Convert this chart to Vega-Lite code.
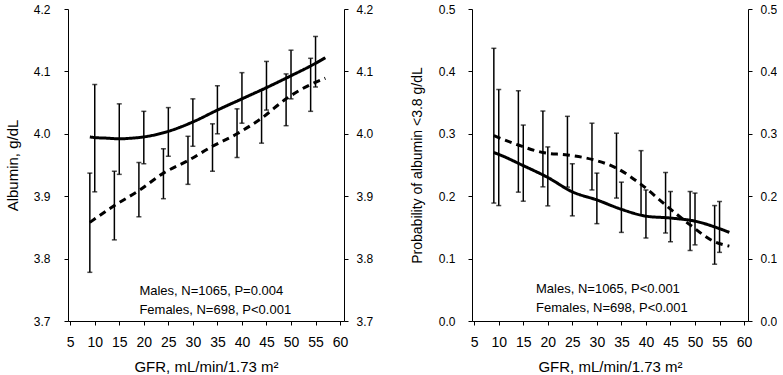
{
  "$schema": "https://vega.github.io/schema/vega-lite/v6.json",
  "padding": {"left": 5, "top": 3, "right": 0, "bottom": 0},
  "spacing": 37,
  "config": {
    "view": {"stroke": null},
    "font": "Liberation Sans",
    "axis": {
      "grid": false,
      "domainColor": "black",
      "tickColor": "black",
      "labelColor": "black",
      "titleColor": "black",
      "labelFont": "Liberation Sans",
      "titleFont": "Liberation Sans",
      "titleFontWeight": "normal",
      "tickSize": 4,
      "domainWidth": 1,
      "tickWidth": 1
    }
  },
  "datasets": {
    "albLine": [
      {"sex": "Males", "gfr": 9, "v": 3.995},
      {"sex": "Males", "gfr": 10, "v": 3.994},
      {"sex": "Males", "gfr": 12.5, "v": 3.993},
      {"sex": "Males", "gfr": 15, "v": 3.992},
      {"sex": "Males", "gfr": 17.5, "v": 3.993},
      {"sex": "Males", "gfr": 20, "v": 3.995},
      {"sex": "Males", "gfr": 25, "v": 4.004},
      {"sex": "Males", "gfr": 30, "v": 4.019},
      {"sex": "Males", "gfr": 35, "v": 4.038},
      {"sex": "Males", "gfr": 40, "v": 4.056},
      {"sex": "Males", "gfr": 45, "v": 4.074},
      {"sex": "Males", "gfr": 50, "v": 4.093},
      {"sex": "Males", "gfr": 55, "v": 4.113},
      {"sex": "Males", "gfr": 57, "v": 4.122},
      {"sex": "Females", "gfr": 9, "v": 3.858},
      {"sex": "Females", "gfr": 14, "v": 3.885},
      {"sex": "Females", "gfr": 19, "v": 3.909},
      {"sex": "Females", "gfr": 24, "v": 3.937},
      {"sex": "Females", "gfr": 29, "v": 3.957},
      {"sex": "Females", "gfr": 34, "v": 3.98},
      {"sex": "Females", "gfr": 39, "v": 4.0},
      {"sex": "Females", "gfr": 44, "v": 4.025},
      {"sex": "Females", "gfr": 49, "v": 4.056},
      {"sex": "Females", "gfr": 54, "v": 4.079},
      {"sex": "Females", "gfr": 57, "v": 4.089}
    ],
    "albBars": [
      {"sex": "Males", "gfr": 10, "lo": 3.907, "hi": 4.079},
      {"sex": "Males", "gfr": 15, "lo": 3.935, "hi": 4.048},
      {"sex": "Males", "gfr": 20, "lo": 3.952, "hi": 4.036},
      {"sex": "Males", "gfr": 25, "lo": 3.964, "hi": 4.042},
      {"sex": "Males", "gfr": 30, "lo": 3.98, "hi": 4.056},
      {"sex": "Males", "gfr": 35, "lo": 4.0, "hi": 4.077},
      {"sex": "Males", "gfr": 40, "lo": 4.017, "hi": 4.098},
      {"sex": "Males", "gfr": 45, "lo": 4.038, "hi": 4.116},
      {"sex": "Males", "gfr": 50, "lo": 4.056, "hi": 4.134},
      {"sex": "Males", "gfr": 55, "lo": 4.075, "hi": 4.156},
      {"sex": "Females", "gfr": 9, "lo": 3.778, "hi": 3.937},
      {"sex": "Females", "gfr": 14, "lo": 3.83, "hi": 3.94},
      {"sex": "Females", "gfr": 19, "lo": 3.867, "hi": 3.954},
      {"sex": "Females", "gfr": 24, "lo": 3.896, "hi": 3.976},
      {"sex": "Females", "gfr": 29, "lo": 3.919, "hi": 3.996},
      {"sex": "Females", "gfr": 34, "lo": 3.94, "hi": 4.016},
      {"sex": "Females", "gfr": 39, "lo": 3.962, "hi": 4.04},
      {"sex": "Females", "gfr": 44, "lo": 3.985, "hi": 4.07},
      {"sex": "Females", "gfr": 49, "lo": 4.013, "hi": 4.096},
      {"sex": "Females", "gfr": 54, "lo": 4.036, "hi": 4.121}
    ],
    "probLine": [
      {"sex": "Males", "gfr": 9, "v": 0.27},
      {"sex": "Males", "gfr": 10, "v": 0.267},
      {"sex": "Males", "gfr": 15, "v": 0.249},
      {"sex": "Males", "gfr": 20, "v": 0.23},
      {"sex": "Males", "gfr": 25, "v": 0.207},
      {"sex": "Males", "gfr": 30, "v": 0.194},
      {"sex": "Males", "gfr": 35, "v": 0.179},
      {"sex": "Males", "gfr": 40, "v": 0.168},
      {"sex": "Males", "gfr": 45, "v": 0.165},
      {"sex": "Males", "gfr": 50, "v": 0.16},
      {"sex": "Males", "gfr": 55, "v": 0.148},
      {"sex": "Males", "gfr": 57, "v": 0.142},
      {"sex": "Females", "gfr": 9, "v": 0.297},
      {"sex": "Females", "gfr": 14, "v": 0.282},
      {"sex": "Females", "gfr": 19, "v": 0.27},
      {"sex": "Females", "gfr": 24, "v": 0.266},
      {"sex": "Females", "gfr": 29, "v": 0.259},
      {"sex": "Females", "gfr": 34, "v": 0.245},
      {"sex": "Females", "gfr": 39, "v": 0.219},
      {"sex": "Females", "gfr": 44, "v": 0.186},
      {"sex": "Females", "gfr": 49, "v": 0.154},
      {"sex": "Females", "gfr": 54, "v": 0.127},
      {"sex": "Females", "gfr": 57, "v": 0.12}
    ],
    "probBars": [
      {"sex": "Males", "gfr": 10, "lo": 0.185, "hi": 0.371},
      {"sex": "Males", "gfr": 15, "lo": 0.192, "hi": 0.314},
      {"sex": "Males", "gfr": 20, "lo": 0.1845, "hi": 0.279},
      {"sex": "Males", "gfr": 25, "lo": 0.1685, "hi": 0.252},
      {"sex": "Males", "gfr": 30, "lo": 0.156, "hi": 0.237},
      {"sex": "Males", "gfr": 35, "lo": 0.142, "hi": 0.2225},
      {"sex": "Males", "gfr": 40, "lo": 0.133, "hi": 0.21},
      {"sex": "Males", "gfr": 45, "lo": 0.127, "hi": 0.2075},
      {"sex": "Males", "gfr": 50, "lo": 0.122, "hi": 0.205},
      {"sex": "Males", "gfr": 55, "lo": 0.11, "hi": 0.1915},
      {"sex": "Females", "gfr": 9, "lo": 0.189, "hi": 0.437},
      {"sex": "Females", "gfr": 14, "lo": 0.2065, "hi": 0.369},
      {"sex": "Females", "gfr": 19, "lo": 0.215, "hi": 0.3365},
      {"sex": "Females", "gfr": 24, "lo": 0.2145, "hi": 0.328},
      {"sex": "Females", "gfr": 29, "lo": 0.21, "hi": 0.317},
      {"sex": "Females", "gfr": 34, "lo": 0.197, "hi": 0.301},
      {"sex": "Females", "gfr": 39, "lo": 0.17, "hi": 0.273},
      {"sex": "Females", "gfr": 44, "lo": 0.141, "hi": 0.238},
      {"sex": "Females", "gfr": 49, "lo": 0.113, "hi": 0.2075},
      {"sex": "Females", "gfr": 54, "lo": 0.091, "hi": 0.185}
    ]
  },
  "hconcat": [
    {
      "width": 276,
      "height": 312,
      "resolve": {"axis": {"x": "independent", "y": "independent"}},
      "layer": [
        {
          "data": {"name": "albBars"},
          "mark": {"type": "rule", "color": "black", "strokeWidth": 1.5},
          "encoding": {
            "x": {"field": "gfr", "type": "quantitative", "scale": {"domain": [4.55, 60.8], "nice": false, "zero": false},
              "axis": {"values": [5, 10, 15, 20, 25, 30, 35, 40, 45, 50, 55, 60], "title": "GFR, mL/min/1.73 m²", "labelFontSize": 14, "labelPadding": 10, "titleFontSize": 15, "titlePadding": 10}},
            "y": {"field": "lo", "type": "quantitative", "scale": {"domain": [3.7, 4.2], "nice": false, "zero": false},
              "axis": {"orient": "left", "values": [3.7, 3.8, 3.9, 4.0, 4.1, 4.2], "format": ".1f", "title": "Albumin, g/dL", "labelFontSize": 12, "labelPadding": 14, "titleFontSize": 15, "titlePadding": 13}},
            "y2": {"field": "hi"}
          }
        },
        {
          "data": {"name": "albBars"},
          "mark": {"type": "tick", "orient": "horizontal", "color": "black", "size": 5, "thickness": 1.5},
          "encoding": {
            "x": {"field": "gfr", "type": "quantitative", "axis": null},
            "y": {"field": "lo", "type": "quantitative", "axis": null}
          }
        },
        {
          "data": {"name": "albBars"},
          "mark": {"type": "tick", "orient": "horizontal", "color": "black", "size": 5, "thickness": 1.5},
          "encoding": {
            "x": {"field": "gfr", "type": "quantitative", "axis": null},
            "y": {"field": "hi", "type": "quantitative", "axis": null}
          }
        },
        {
          "data": {"name": "albLine"},
          "mark": {"type": "line", "color": "black", "strokeWidth": 3, "interpolate": "monotone"},
          "encoding": {
            "x": {"field": "gfr", "type": "quantitative", "axis": null},
            "y": {"field": "v", "type": "quantitative",
              "axis": {"orient": "right", "values": [3.7, 3.8, 3.9, 4.0, 4.1, 4.2], "format": ".1f", "title": null, "labelFontSize": 12, "labelPadding": 8}},
            "detail": {"field": "sex"},
            "strokeDash": {"field": "sex", "type": "nominal", "scale": {"domain": ["Males", "Females"], "range": [[1, 0], [7, 5]]}, "legend": null}
          }
        },
        {
          "data": {"values": [{"label": "Males, N=1065, P=0.004"}]},
          "mark": {"type": "text", "align": "left", "baseline": "alphabetic", "fontSize": 13, "color": "black"},
          "encoding": {
            "x": {"datum": 19.1, "type": "quantitative", "axis": null},
            "y": {"datum": 3.741, "type": "quantitative", "axis": null},
            "text": {"field": "label"}
          }
        },
        {
          "data": {"values": [{"label": "Females, N=698, P<0.001"}]},
          "mark": {"type": "text", "align": "left", "baseline": "alphabetic", "fontSize": 13, "color": "black"},
          "encoding": {
            "x": {"datum": 19.1, "type": "quantitative", "axis": null},
            "y": {"datum": 3.712, "type": "quantitative", "axis": null},
            "text": {"field": "label"}
          }
        }
      ]
    },
    {
      "width": 276,
      "height": 312,
      "resolve": {"axis": {"x": "independent", "y": "independent"}},
      "layer": [
        {
          "data": {"name": "probBars"},
          "mark": {"type": "rule", "color": "black", "strokeWidth": 1.5},
          "encoding": {
            "x": {"field": "gfr", "type": "quantitative", "scale": {"domain": [4.55, 60.8], "nice": false, "zero": false},
              "axis": {"values": [5, 10, 15, 20, 25, 30, 35, 40, 45, 50, 55, 60], "title": "GFR, mL/min/1.73 m²", "labelFontSize": 14, "labelPadding": 10, "titleFontSize": 15, "titlePadding": 10}},
            "y": {"field": "lo", "type": "quantitative", "scale": {"domain": [0, 0.5], "nice": false, "zero": false},
              "axis": {"orient": "left", "values": [0, 0.1, 0.2, 0.3, 0.4, 0.5], "format": ".1f", "title": "Probability of albumin <3.8 g/dL", "labelFontSize": 12, "labelPadding": 13, "titleFontSize": 14, "titlePadding": 14}},
            "y2": {"field": "hi"}
          }
        },
        {
          "data": {"name": "probBars"},
          "mark": {"type": "tick", "orient": "horizontal", "color": "black", "size": 5, "thickness": 1.5},
          "encoding": {
            "x": {"field": "gfr", "type": "quantitative", "axis": null},
            "y": {"field": "lo", "type": "quantitative", "axis": null}
          }
        },
        {
          "data": {"name": "probBars"},
          "mark": {"type": "tick", "orient": "horizontal", "color": "black", "size": 5, "thickness": 1.5},
          "encoding": {
            "x": {"field": "gfr", "type": "quantitative", "axis": null},
            "y": {"field": "hi", "type": "quantitative", "axis": null}
          }
        },
        {
          "data": {"name": "probLine"},
          "mark": {"type": "line", "color": "black", "strokeWidth": 3, "interpolate": "monotone"},
          "encoding": {
            "x": {"field": "gfr", "type": "quantitative", "axis": null},
            "y": {"field": "v", "type": "quantitative",
              "axis": {"orient": "right", "values": [0, 0.1, 0.2, 0.3, 0.4, 0.5], "format": ".1f", "title": null, "labelFontSize": 12, "labelPadding": 8}},
            "detail": {"field": "sex"},
            "strokeDash": {"field": "sex", "type": "nominal", "scale": {"domain": ["Males", "Females"], "range": [[1, 0], [7, 5]]}, "legend": null}
          }
        },
        {
          "data": {"values": [{"label": "Males, N=1065, P<0.001"}]},
          "mark": {"type": "text", "align": "left", "baseline": "alphabetic", "fontSize": 13, "color": "black"},
          "encoding": {
            "x": {"datum": 17.6, "type": "quantitative", "axis": null},
            "y": {"datum": 0.0444, "type": "quantitative", "axis": null},
            "text": {"field": "label"}
          }
        },
        {
          "data": {"values": [{"label": "Females, N=698, P<0.001"}]},
          "mark": {"type": "text", "align": "left", "baseline": "alphabetic", "fontSize": 13, "color": "black"},
          "encoding": {
            "x": {"datum": 17.6, "type": "quantitative", "axis": null},
            "y": {"datum": 0.0149, "type": "quantitative", "axis": null},
            "text": {"field": "label"}
          }
        }
      ]
    }
  ]
}
